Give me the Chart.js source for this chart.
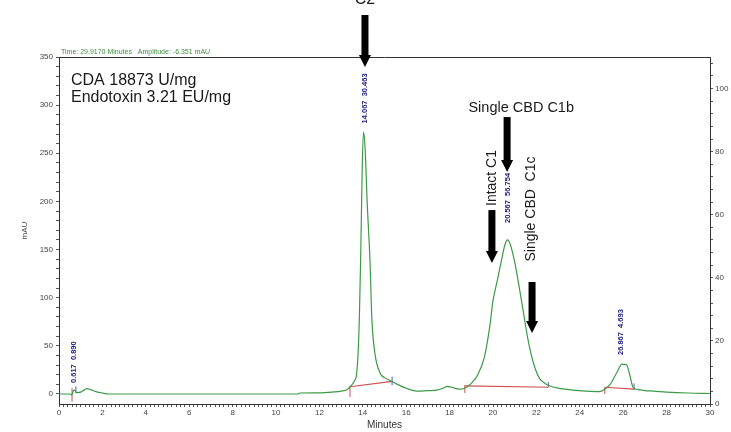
<!DOCTYPE html>
<html>
<head>
<meta charset="utf-8">
<script src="https://cdn.jsdelivr.net/npm/chart.js@4"></script>
<style>
  html, body { margin: 0; padding: 0; background: #fff; }
  #wrap { width: 731px; height: 432px; position: relative; }
</style>
</head>
<body>
<div id="wrap"><canvas id="chromChart"></canvas></div>
<script>
// chromatogram trace (minutes, mAU)
const traceTimes = [0, 0.5, 0.6, 0.65, 0.72, 0.8, 1.0, 1.15, 1.3, 1.45, 1.7, 2.0, 2.3, 4, 6, 8, 10, 11.0, 11.1, 12.0, 12.6, 13.0,
  13.3, 13.41, 13.6, 13.72, 13.8, 13.84, 13.9, 13.97, 14.03, 14.1, 14.2, 14.33, 14.42, 14.56, 14.79, 15.0, 15.35, 15.6, 16.0,
  16.5, 17.0, 17.4, 17.7, 17.9, 18.1, 18.45, 18.7, 19.0, 19.3, 19.6, 19.85, 20.0, 20.2, 20.4, 20.55, 20.67, 20.8, 21.0, 21.2,
  21.4, 21.6, 21.75, 21.95, 22.15, 22.4, 22.6, 23.0, 23.7, 24.3, 24.9, 25.15, 25.4, 25.7, 25.95, 26.15, 26.3, 26.45, 26.7,
  27.0, 27.4, 28.0, 29.0, 30.0];
const traceValues = [0, 0, -1, 3, 4, 1.5, 2, 4, 5.5, 4.5, 2.5, 1, 0, 0, 0, 0, 0, 0, 1, 1.2, 2, 3,
  5, 7.5, 13, 22, 50, 77, 139, 230, 272, 258, 200, 139, 77, 42, 22, 17, 13, 10, 6,
  3, 3.5, 4, 6, 8, 7, 5, 6, 11, 20, 38, 70, 97, 118, 140, 155, 160, 155, 137, 112,
  85, 58, 42, 26, 16, 11, 8.5, 6, 4, 3, 2.5, 5, 10, 22, 31, 30.5, 20, 7, 4.5,
  3.5, 3, 2, 1, 0.5];

// integration baselines (red), null splits the segments
const baseTimes = [13.41, 15.35, null, 18.7, 22.55, null, 25.15, 26.5];
const baseValues = [7.5, 13, null, 8.5, 7, null, 7, 5];

// peak start marks (red) and end marks (blue)
const startTimes = [0.6, 13.41, 18.7, 25.15];
const startLow = [-8, -3, 1, 0];
const startHigh = [6, 8, 9, 7];
const endTimes = [0.78, 15.35, 22.55, 26.5];
const endLow = [1, 9, 7, 4];
const endHigh = [8, 18, 12.5, 11];

// peak labels
const peakTimes = [0.69, 14.08, 20.67, 25.9];
const peakLabelBase = [11.4, 281, 177.6, 40.5];
const peakLabels = ['0.617  0.890', '14.067  30.463', '20.567  56.754', '26.867  4.693'];

// axis ticks
const xTickLabels = [0, 2, 4, 6, 8, 10, 12, 14, 16, 18, 20, 22, 24, 26, 28, 30];
const leftTickLabels = [0, 50, 100, 150, 200, 250, 300, 350];
const rightTickLabels = [0, 20, 40, 60, 80, 100];

function pairs(xs, ys) {
  return xs.map((t, i) => ({ x: t === null ? NaN : t, y: ys[i] === null ? null : ys[i] }));
}
function marks(xs, lo, hi) {
  const out = [];
  xs.forEach((t, i) => { out.push({ x: t, y: lo[i] }, { x: t, y: hi[i] }, { x: t, y: null }); });
  return out;
}
function minorTicks(from, to, step) {
  const t = [];
  for (let k = 0; from + k * step <= to + 1e-9; k++) t.push({ value: Math.round((from + k * step) * 1000) / 1000 });
  return t;
}
function isLabel(list, v) {
  return list.some(l => Math.abs(l - v) < 1e-6);
}

const tickFont = { family: '"Liberation Sans Narrow", "Arial Narrow", sans-serif', size: 8 };

function drawArrow(ctx, px, yTop, yTip) {
  const shaft = 7, headW = 12, headL = 12;
  ctx.fillStyle = '#000';
  ctx.fillRect(px - shaft / 2, yTop, shaft, yTip - yTop - headL);
  ctx.beginPath();
  ctx.moveTo(px - headW / 2, yTip - headL);
  ctx.lineTo(px + headW / 2, yTip - headL);
  ctx.lineTo(px, yTip);
  ctx.closePath();
  ctx.fill();
}

const annotate = {
  id: 'annotate',
  afterDraw(chart) {
    const { ctx, chartArea: a } = chart;
    const x = chart.scales.x, y = chart.scales.yL;
    ctx.save();
    // top frame line
    ctx.strokeStyle = '#333';
    ctx.lineWidth = 1;
    ctx.beginPath();
    ctx.moveTo(a.left, a.top + 0.5);
    ctx.lineTo(a.right, a.top + 0.5);
    ctx.stroke();

    // header line of the instrument
    ctx.fillStyle = '#3f8f3f';
    ctx.font = '7px "Liberation Sans", Arial, sans-serif';
    ctx.textBaseline = 'middle';
    ctx.fillText('Time: 29.9170 Minutes   Amplitude: -6.351 mAU', a.left + 2, a.top - 5);

    // peak labels (rotated, blue)
    ctx.fillStyle = '#1c1c80';
    ctx.font = 'bold 7.5px "Liberation Sans Narrow", "Arial Narrow", sans-serif';
    peakTimes.forEach((t, i) => {
      ctx.save();
      ctx.translate(x.getPixelForValue(t), y.getPixelForValue(peakLabelBase[i]));
      ctx.rotate(-Math.PI / 2);
      ctx.textAlign = 'left';
      ctx.textBaseline = 'middle';
      ctx.fillText(peakLabels[i], 0, 0);
      ctx.restore();
    });

    // text notes
    ctx.fillStyle = '#1a1a1a';
    ctx.textAlign = 'left';
    ctx.textBaseline = 'alphabetic';
    ctx.font = '16px "Liberation Sans", Arial, sans-serif';
    ctx.fillText('CDA 18873 U/mg', 71, 85);
    ctx.fillText('Endotoxin 3.21 EU/mg', 71, 102);

    ctx.textAlign = 'center';
    ctx.fillText('C2', x.getPixelForValue(14.1), 4);
    ctx.font = '14.5px "Liberation Sans", Arial, sans-serif';
    ctx.fillText('Single CBD C1b', x.getPixelForValue(21.3), 112);

    ctx.font = '14px "Liberation Sans", Arial, sans-serif';
    ctx.textBaseline = 'middle';
    [['Intact C1', 19.95, 178], ['Single CBD  C1c', 21.75, 209]].forEach(([s, t, py]) => {
      ctx.save();
      ctx.translate(x.getPixelForValue(t), py);
      ctx.rotate(-Math.PI / 2);
      ctx.fillText(s, 0, 0);
      ctx.restore();
    });

    // arrows
    drawArrow(ctx, x.getPixelForValue(14.1), 15, y.getPixelForValue(339.6));
    drawArrow(ctx, x.getPixelForValue(20.65), y.getPixelForValue(287.6), y.getPixelForValue(230.5));
    drawArrow(ctx, x.getPixelForValue(19.95), y.getPixelForValue(191), y.getPixelForValue(136));
    drawArrow(ctx, x.getPixelForValue(21.8), y.getPixelForValue(116.3), y.getPixelForValue(63.3));
    ctx.restore();
  }
};

const ctxEl = document.getElementById('chromChart');
new Chart(ctxEl, {
  type: 'line',
  data: {
    datasets: [{
      label: 'trace',
      data: pairs(traceTimes, traceValues),
      borderColor: '#3c9a46',
      borderWidth: 1.2,
      pointRadius: 0,
      cubicInterpolationMode: 'monotone',
      yAxisID: 'yL'
    }, {
      label: 'baseline',
      data: pairs(baseTimes, baseValues),
      borderColor: '#d05050',
      borderWidth: 1.2,
      pointRadius: 0,
      spanGaps: false,
      yAxisID: 'yL'
    }, {
      label: 'start',
      data: marks(startTimes, startLow, startHigh),
      borderColor: '#d05050',
      borderWidth: 1,
      pointRadius: 0,
      spanGaps: false,
      yAxisID: 'yL'
    }, {
      label: 'end',
      data: marks(endTimes, endLow, endHigh),
      borderColor: '#5060b0',
      borderWidth: 1,
      pointRadius: 0,
      spanGaps: false,
      yAxisID: 'yL'
    }]
  },
  options: {
    responsive: true,
    maintainAspectRatio: false,
    animation: false,
    devicePixelRatio: 1,
    layout: { padding: { top: 57, left: 0, right: 0, bottom: 0 } },
    plugins: { legend: { display: false }, tooltip: { enabled: false } },
    scales: {
      x: {
        type: 'linear',
        min: 0,
        max: 30,
        afterBuildTicks: s => { s.ticks = minorTicks(0, 30, 0.2); },
        afterFit: s => { s.height = 28; },
        ticks: {
          autoSkip: false, maxRotation: 0, minRotation: 0,
          font: tickFont, color: '#444', padding: 1,
          callback: v => isLabel(xTickLabels, v) ? String(Math.round(v)) : ''
        },
        grid: { drawOnChartArea: false, tickLength: 3, color: '#555' },
        border: { color: '#333', width: 1 },
        title: { display: true, text: 'Minutes', color: '#333',
          font: { family: '"Liberation Sans", Arial, sans-serif', size: 10 }, padding: { top: 0, bottom: 1 } }
      },
      yL: {
        type: 'linear',
        position: 'left',
        min: -10.4,
        max: 350,
        afterBuildTicks: s => { s.ticks = minorTicks(0, 350, 10); },
        afterFit: s => { s.width = 59; },
        ticks: {
          autoSkip: false, font: tickFont, color: '#444', padding: 3,
          callback: v => isLabel(leftTickLabels, v) ? String(v) : ''
        },
        grid: { drawOnChartArea: false, tickLength: 3, color: '#555' },
        border: { color: '#333', width: 1 },
        title: { display: true, text: 'mAU', color: '#444', font: tickFont, padding: { top: 20, bottom: 0 } }
      },
      yR: {
        type: 'linear',
        position: 'right',
        min: 0,
        max: 110,
        afterBuildTicks: s => { s.ticks = minorTicks(0, 108, 4); },
        afterFit: s => { s.width = 21; },
        ticks: {
          autoSkip: false, font: tickFont, color: '#444', padding: 2,
          callback: v => isLabel(rightTickLabels, v) ? String(v) : ''
        },
        grid: { drawOnChartArea: false, tickLength: 3, color: '#555' },
        border: { color: '#333', width: 1 }
      }
    }
  },
  plugins: [annotate]
});
</script>
</body>
</html>
